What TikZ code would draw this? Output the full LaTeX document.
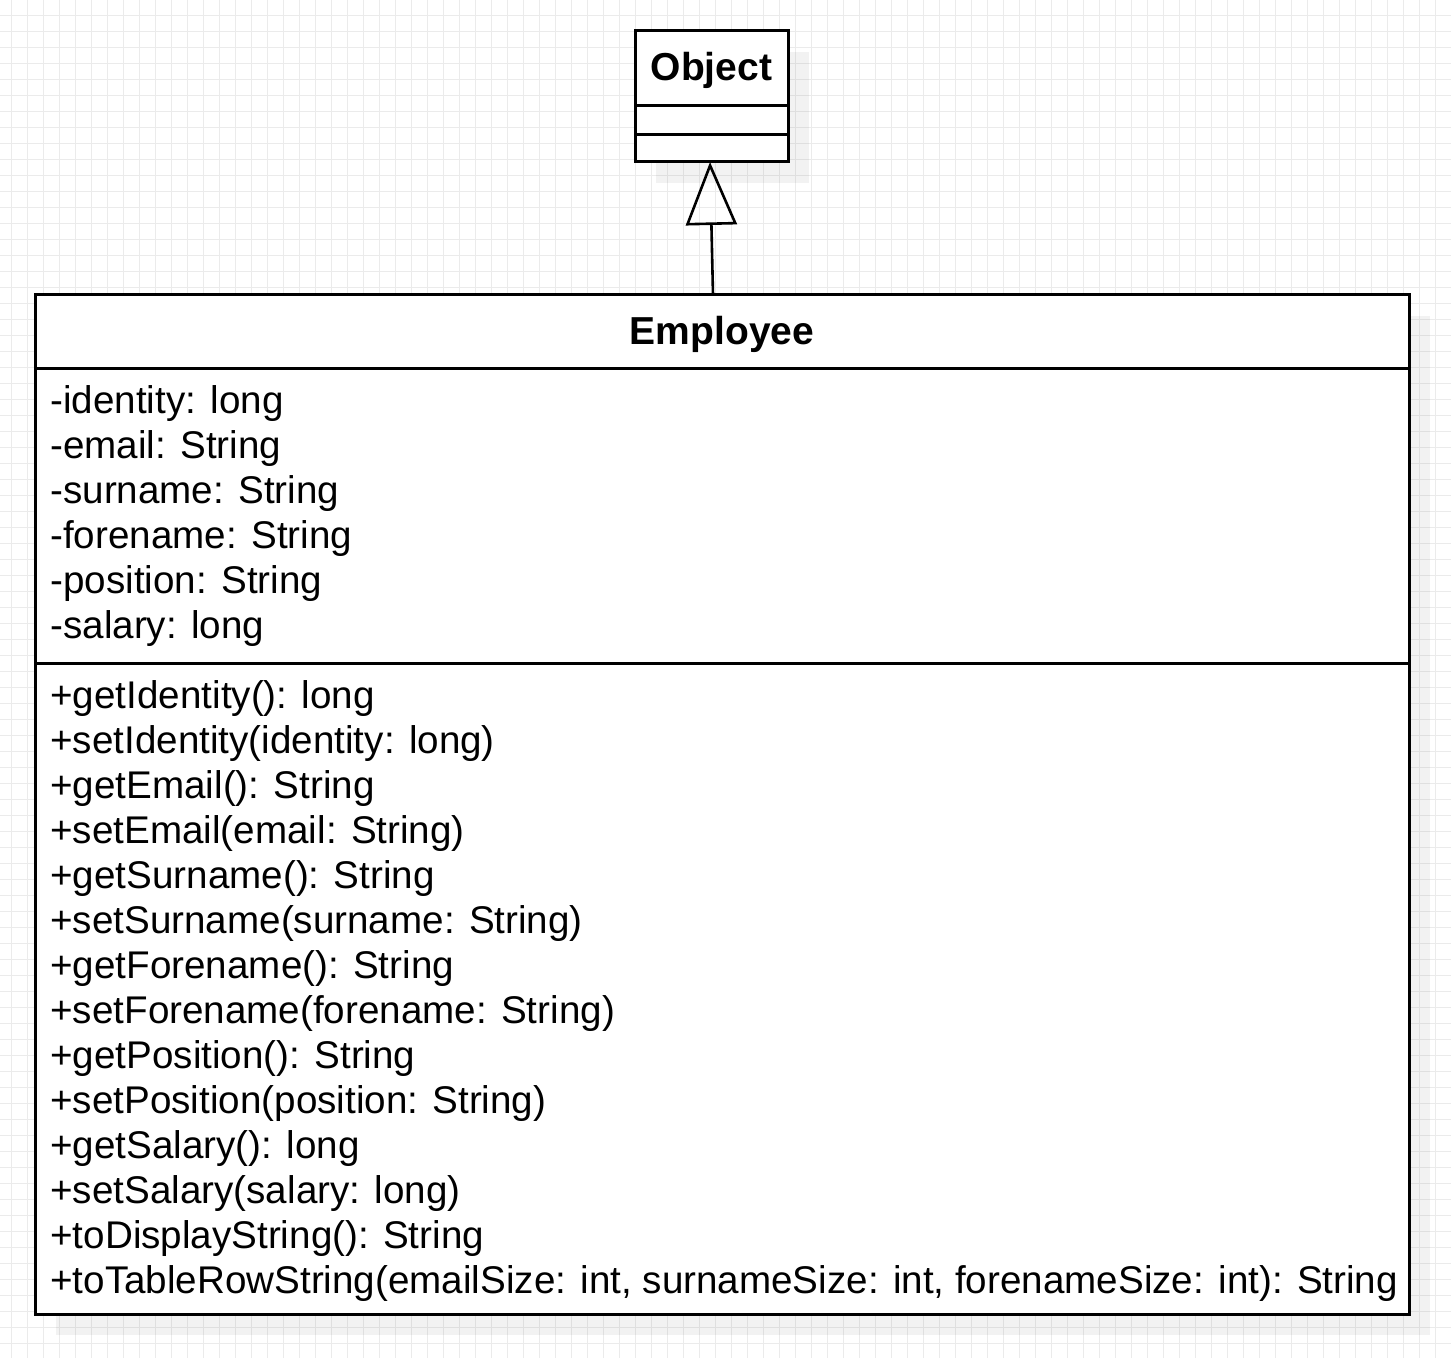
\documentclass[tikz,border=0pt]{standalone}
\usepackage{fontspec}
\setmainfont{Liberation Sans}
\usetikzlibrary{arrows.meta}
\definecolor{gridc}{HTML}{EBEBEB}
\tikzset{
  umlbox/.style={draw=black, line width=1.5pt, fill=white, inner sep=0pt, outer sep=0pt, anchor=north west},
  shadowbox/.style={fill=black, fill opacity=0.05, draw=none},
  divider/.style={draw=black, line width=1.5pt},
  titletext/.style={font=\fontsize{19.5pt}{23.4pt}\selectfont\bfseries, inner sep=0pt},
  linetext/.style={font=\fontsize{19.3pt}{23.2pt}\selectfont, inner sep=0pt, anchor=base west},
  inherit/.style={draw=black, line width=1.3pt, -{Triangle[open, length=31.5pt, width=25.5pt, line width=1.3pt]}},
}
\begin{document}
\begin{tikzpicture}[x=0.5pt, y=-0.5pt]
\useasboundingbox (0,0) rectangle (1451,1358);
\fill[white] (0,0) rectangle (1451,1358);
% grid
\foreach \gx in {0,...,90} {\draw[gridc, line width=0.5pt] ({11.3+16*\gx},0) -- ({11.3+16*\gx},1358);}
\foreach \gy in {0,...,84} {\draw[gridc, line width=0.5pt] (0,{15.3+16*\gy}) -- (1451,{15.3+16*\gy});}
% shadows
\fill[shadowbox] (656,52) rectangle (809,183);
\fill[shadowbox] (56,316) rectangle (1430,1335);
% Object class
\node[umlbox, minimum width=76.5pt, minimum height=65.5pt] (obj) at (635,31) {};
\draw[divider] (635,106) -- (788,106);
\draw[divider] (635,135) -- (788,135);
\node[titletext] (objtitle) at (711.5,70) {Object};
% Employee class
\node[umlbox, minimum width=687pt, minimum height=509.5pt] (emp) at (35,295) {};
\draw[divider] (35,369) -- (1409,369);
\draw[divider] (35,663) -- (1409,663);
\node[titletext] (emptitle) at (722,334) {Employee};
% attributes
\node[linetext] (a1) at (50,413.5) {-identity: long};
\node[linetext] (a2) at (50,458.5) {-email: String};
\node[linetext] (a3) at (50,503.5) {-surname: String};
\node[linetext] (a4) at (50,548.5) {-forename: String};
\node[linetext] (a5) at (50,593.5) {-position: String};
\node[linetext] (a6) at (50,638.5) {-salary: long};
% methods
\node[linetext] (m1) at (50,708) {+getIdentity(): long};
\node[linetext] (m2) at (50,753) {+setIdentity(identity: long)};
\node[linetext] (m3) at (50,798) {+getEmail(): String};
\node[linetext] (m4) at (50,843) {+setEmail(email: String)};
\node[linetext] (m5) at (50,888) {+getSurname(): String};
\node[linetext] (m6) at (50,933) {+setSurname(surname: String)};
\node[linetext] (m7) at (50,978) {+getForename(): String};
\node[linetext] (m8) at (50,1023) {+setForename(forename: String)};
\node[linetext] (m9) at (50,1068) {+getPosition(): String};
\node[linetext] (m10) at (50,1113) {+setPosition(position: String)};
\node[linetext] (m11) at (50,1158) {+getSalary(): long};
\node[linetext] (m12) at (50,1203) {+setSalary(salary: long)};
\node[linetext] (m13) at (50,1248) {+toDisplayString(): String};
\node[linetext] (m14) at (50,1293) {+toTableRowString(emailSize: int, surnameSize: int, forenameSize: int): String};
% inheritance
\coordinate (empTop) at ([xshift=-4.5pt]emp.north);
\coordinate (objBot) at ([xshift=-0.75pt]obj.south);
\draw[inherit] (empTop) -- (objBot);
\end{tikzpicture}
\end{document}
